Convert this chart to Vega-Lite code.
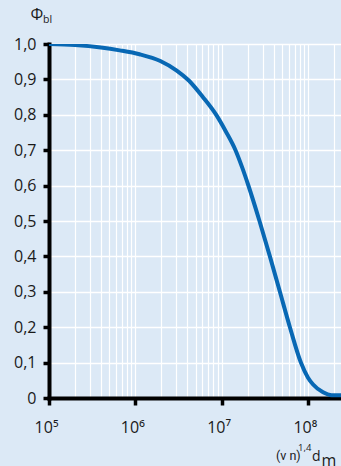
{
  "$schema": "https://vega.github.io/schema/vega-lite/v6.json",
  "width": 292,
  "height": 354,
  "autosize": {"type": "none"},
  "padding": {"left": 49, "top": 44, "right": 0, "bottom": 68},
  "background": "#dce9f6",
  "config": {
    "view": {"stroke": null, "fill": "#dce9f6"},
    "font": "Open Sans",
    "axis": {"labelFont": "Open Sans", "titleFont": "Open Sans", "labelColor": "#1a1a1a", "titleColor": "#1a1a1a", "titleFontWeight": "normal"}
  },
  "data": {
    "values": [
      {"x": 100000, "phi": 1.0},
      {"x": 200000, "phi": 0.997},
      {"x": 400000, "phi": 0.990},
      {"x": 660000, "phi": 0.982},
      {"x": 1120000, "phi": 0.971},
      {"x": 1950000, "phi": 0.952},
      {"x": 3020000, "phi": 0.925},
      {"x": 4170000, "phi": 0.897},
      {"x": 6030000, "phi": 0.851},
      {"x": 8710000, "phi": 0.799},
      {"x": 11200000, "phi": 0.753},
      {"x": 14500000, "phi": 0.700},
      {"x": 17400000, "phi": 0.650},
      {"x": 20400000, "phi": 0.601},
      {"x": 27500000, "phi": 0.500},
      {"x": 36300000, "phi": 0.400},
      {"x": 47400000, "phi": 0.300},
      {"x": 61900000, "phi": 0.200},
      {"x": 83000000, "phi": 0.100},
      {"x": 100000000, "phi": 0.058},
      {"x": 115000000, "phi": 0.038},
      {"x": 150000000, "phi": 0.016},
      {"x": 188000000, "phi": 0.008},
      {"x": 242000000, "phi": 0.008}
    ]
  },
  "resolve": {"scale": {"x": "independent", "y": "independent"}, "axis": {"x": "independent", "y": "independent"}},
  "layer": [
    {
      "mark": {"type": "line", "color": "#0868b4", "strokeWidth": 4, "interpolate": "monotone", "clip": true},
      "encoding": {
        "x": {
          "field": "x", "type": "quantitative",
          "scale": {"type": "log", "domain": [100000, 242000000], "nice": false},
          "axis": {
            "orient": "bottom",
            "values": [100000, 200000, 300000, 400000, 500000, 600000, 700000, 800000, 900000, 1000000, 2000000, 3000000, 4000000, 5000000, 6000000, 7000000, 8000000, 9000000, 10000000, 20000000, 30000000, 40000000, 50000000, 60000000, 70000000, 80000000, 90000000, 100000000, 200000000],
            "grid": true, "gridColor": "#ffffff", "gridWidth": 1.2, "gridOpacity": 1,
            "ticks": false, "labels": false, "domain": false,
            "title": "(ν n)", "titleFont": "Roboto", "titleFontSize": 12.5, "titleAlign": "left", "titleBaseline": "alphabetic", "titleAnchor": null,
            "titleX": 226.5, "titleY": 61
          }
        },
        "y": {
          "field": "phi", "type": "quantitative",
          "scale": {"domain": [0, 1], "nice": false, "zero": false},
          "axis": {
            "orient": "left",
            "values": [0, 0.1, 0.2, 0.3, 0.4, 0.5, 0.6, 0.7, 0.8, 0.9, 1.0],
            "grid": true, "gridColor": "#ffffff", "gridWidth": 1.5, "gridOpacity": 1,
            "domain": true, "domainColor": "#000000", "domainWidth": 4, "domainCap": "square",
            "ticks": true, "tickColor": "#000000", "tickSize": 6, "tickWidth": 3.5,
            "labels": true, "labelFontSize": 16, "labelPadding": 7,
            "labelExpr": "datum.value == 0 ? '0' : replace(format(datum.value, '.1f'), '.', ',')",
            "title": "Φ", "titleFontSize": 16, "titleAngle": 0, "titleAlign": "center", "titleBaseline": "alphabetic", "titleAnchor": null,
            "titleX": -12.7, "titleY": -24.5
          }
        }
      }
    },
    {
      "mark": {"type": "line", "opacity": 0},
      "encoding": {
        "x": {
          "field": "x", "type": "quantitative",
          "scale": {"type": "log", "domain": [100000, 242000000], "nice": false},
          "axis": {
            "orient": "bottom",
            "values": [100000, 1000000, 10000000, 100000000],
            "grid": false,
            "domain": true, "domainColor": "#000000", "domainWidth": 4, "domainCap": "square",
            "ticks": true, "tickColor": "#000000", "tickSize": 7, "tickWidth": 3.5,
            "labels": true, "labelFontSize": 16, "labelPadding": 14, "labelOffset": -3, "labelFlush": false, "labelOverlap": false,
            "labelExpr": "datum.value == 100000 ? '10⁵' : datum.value == 1000000 ? '10⁶' : datum.value == 10000000 ? '10⁷' : '10⁸'",
            "title": "1,4", "titleFontSize": 9.5, "titleAlign": "left", "titleBaseline": "alphabetic", "titleAnchor": null,
            "titleX": 248.5, "titleY": 52
          }
        },
        "y": {
          "field": "phi", "type": "quantitative",
          "scale": {"domain": [0, 1], "nice": false, "zero": false},
          "axis": {
            "orient": "left",
            "grid": false, "domain": false, "ticks": false, "labels": false,
            "title": "bl", "titleFontSize": 10.5, "titleAngle": 0, "titleAlign": "left", "titleBaseline": "alphabetic", "titleAnchor": null,
            "titleX": -6.5, "titleY": -22
          }
        }
      }
    },
    {
      "mark": {"type": "line", "opacity": 0},
      "encoding": {
        "x": {
          "field": "x", "type": "quantitative",
          "scale": {"type": "log", "domain": [100000, 242000000], "nice": false},
          "axis": {
            "orient": "bottom",
            "grid": false, "domain": false, "ticks": false, "labels": false,
            "title": "m", "titleFontSize": 16, "titleAlign": "left", "titleBaseline": "alphabetic", "titleAnchor": null,
            "titleX": 272, "titleY": 67.5
          }
        },
        "y": {
          "field": "phi", "type": "quantitative",
          "scale": {"domain": [0, 1], "nice": false, "zero": false},
          "axis": {
            "orient": "left",
            "grid": false, "domain": false, "ticks": false, "labels": false,
            "title": "d", "titleFontSize": 14, "titleAngle": 0, "titleAlign": "left", "titleBaseline": "alphabetic", "titleAnchor": null,
            "titleX": 262.5, "titleY": 416
          }
        }
      }
    }
  ]
}
